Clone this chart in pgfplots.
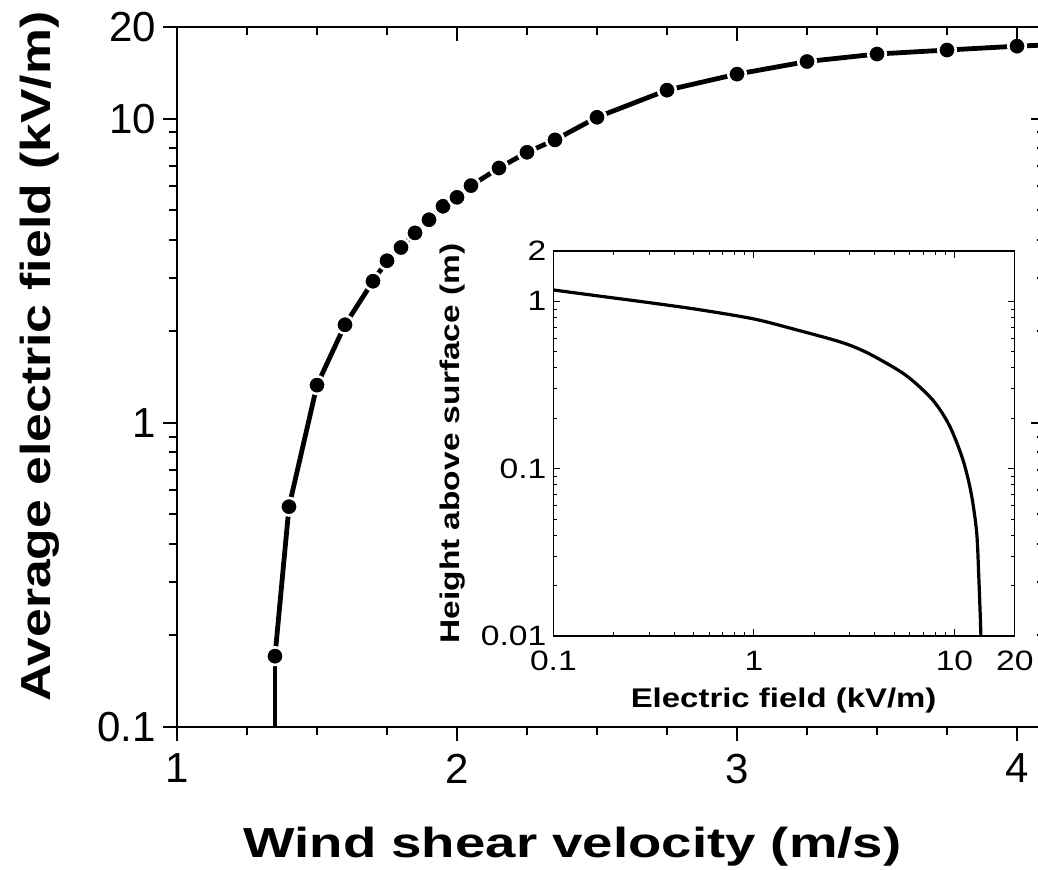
\documentclass[border=0pt]{standalone}
\usepackage{fontspec}
\setmainfont{Liberation Sans}
\usepackage{graphicx}
\usepackage{pgfplots}
\usepackage{pgfplotstable}
\pgfplotsset{compat=1.18}

% average field vs shear velocity
\pgfplotstableread{
x     y
1.35  0.171
1.40  0.53
1.50  1.33
1.60  2.10
1.70  2.92
1.75  3.41
1.80  3.77
1.85  4.21
1.90  4.65
1.95  5.15
2.00  5.51
2.05  6.02
2.15  6.88
2.25  7.75
2.35  8.51
2.50  10.1
2.75  12.4
3.00  14.0
3.25  15.4
3.50  16.3
3.75  16.8
4.00  17.3
}\fieldtab

% inset: height profile
\pgfplotstableread{
E      h
0.1    1.17
0.165  1.08
0.294  0.986
0.53   0.893
1.0    0.785
1.66   0.672
2.49   0.589
3.08   0.541
3.89   0.476
5.72   0.362
7.78   0.258
9.44   0.181
11.0   0.114
12.1   0.072
12.9   0.042
13.2   0.024
13.5   0.0117
13.62  0.008
}\profiletab

\newcommand{\wide}[2]{\scalebox{#1}[1]{#2}}

\pgfplotsset{
  mainframe/.style={
    at={(0,0)}, anchor=south west,
    scale only axis, width=434pt, height=350pt,
    xmin=1, xmax=4.1, ymin=0.1, ymax=20,
    xtick={1,2,3,4}, minor x tick num=3,
    ytick={0.1,1,10,20},
    minor ytick={0.2,0.3,0.4,0.5,0.6,0.7,0.8,0.9,2,3,4,5,6,7,8,9},
    major tick length=7pt, minor tick length=4pt,
    every tick/.style={black, line width=1pt},
    axis line style={line width=1.2pt},
  }
}

\begin{document}
\begin{tikzpicture}
\useasboundingbox (-88.5pt,-71pt) rectangle (430.5pt,363.5pt);
\begin{axis}[
  ymode=log, mainframe,
  xtick pos=left, ytick pos=left, tick align=outside,
  xticklabels={1,2,3,4}, yticklabels={0.1,1,10,20},
  /pgf/number format/assume math mode=true,
  tick label style={font=\fontsize{21}{25}\selectfont},
  xticklabel style={yshift=-3pt},
  label style={font=\fontsize{21}{25}\selectfont\bfseries},
  xlabel={\wide{1.3}{Wind shear velocity (m/s)}},
  ylabel={\wide{1.23}{Average electric field (kV/m)}},
  xlabel style={at={(axis description cs:0.4556,-0.1857)}, anchor=base},
  ylabel style={at={(axis description cs:-0.158,0.529)}, anchor=center},
]
  \addplot[black, line width=2.4pt] coordinates {(1.35,0.05) (1.35,0.171)};
  \addplot[black, line width=2.4pt] coordinates {(4.0,17.3) (4.1,17.45)};
  \addplot[black, line width=2.4pt, mark=*, mark size=4.4pt,
    mark options={fill=black, draw=white, line width=1.3pt}] table[x=x, y=y] {\fieldtab};
\end{axis}
\begin{axis}[
  ymode=log, mainframe,
  xtick pos=right, ytick pos=right, tick align=inside,
  xticklabels={}, yticklabels={},
]
\end{axis}
\begin{axis}[
  at={(188.2pt,45.5pt)}, anchor=south west,
  scale only axis, width=230.7pt, height=192.5pt,
  xmode=log, ymode=log,
  xmin=0.1, xmax=20, ymin=0.01, ymax=2,
  xtick={0.1,1,10,20},
  xticklabels={\wide{1.2}{0.1},\wide{1.2}{1},\wide{1.2}{10},\wide{1.2}{20}},
  ytick={0.01,0.1,1,2},
  yticklabels={\wide{1.2}{0.01},\wide{1.2}{0.1},\wide{1.2}{1},\wide{1.2}{2}},
  minor xtick={0.2,0.3,0.4,0.5,0.6,0.7,0.8,0.9,2,3,4,5,6,7,8,9},
  minor ytick={0.02,0.03,0.04,0.05,0.06,0.07,0.08,0.09,0.2,0.3,0.4,0.5,0.6,0.7,0.8,0.9},
  tick align=inside,
  major tick length=3.5pt, minor tick length=2pt,
  every tick/.style={black, line width=0.5pt},
  axis line style={line width=0.6pt},
  tick label style={font=\fontsize{14}{16}\selectfont},
  xticklabel style={yshift=-4pt},
  label style={font=\fontsize{13.5}{16}\selectfont\bfseries},
  xlabel={\wide{1.22}{Electric field (kV/m)}},
  ylabel={\wide{1.24}{Height above surface (m)}},
  xlabel style={at={(axis description cs:0.499,-0.1844)}, anchor=base},
  ylabel style={at={(axis description cs:-0.219,0.5)}, anchor=center},
]
  \addplot[black, line width=1.6pt, smooth] table[x=E, y=h] {\profiletab};
\end{axis}
\end{tikzpicture}
\end{document}
